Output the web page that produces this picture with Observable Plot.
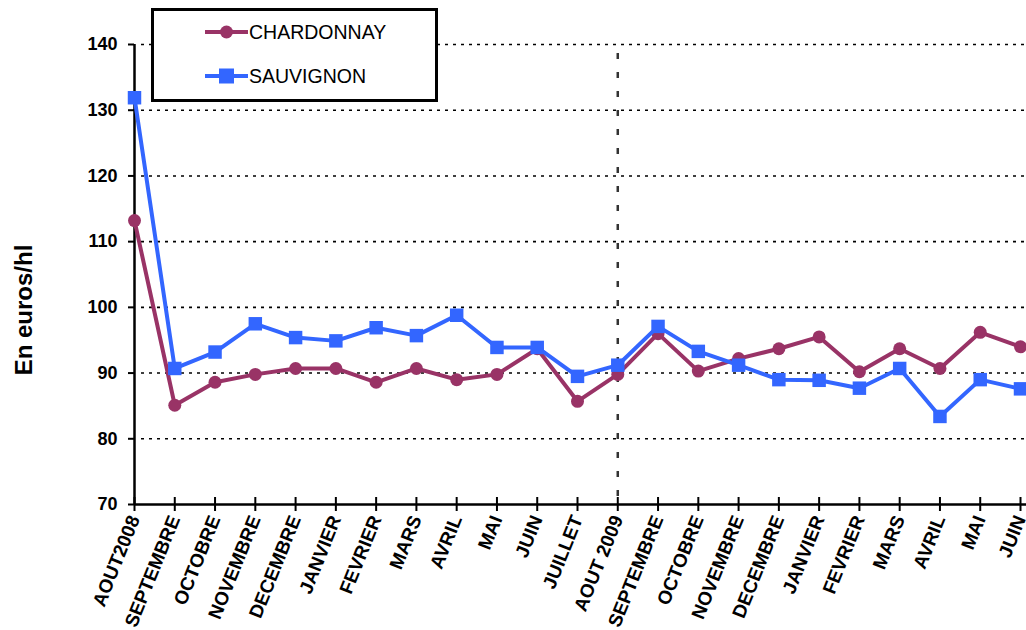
<!DOCTYPE html>
<html>
<head>
<meta charset="utf-8">
<script src="https://cdn.jsdelivr.net/npm/d3@7"></script>
<script src="https://cdn.jsdelivr.net/npm/@observablehq/plot@0.6"></script>
<style>
  html, body { margin: 0; padding: 0; background: #fff; }
  #wrap { position: relative; width: 1026px; height: 630px; overflow: hidden; font-family: Arial, "Liberation Sans", sans-serif; }
  #ylabel { position: absolute; left: 24px; top: 310px; transform: translate(-50%, -50%) rotate(-90deg); font-size: 24px; font-weight: bold; white-space: nowrap; color: #000; }
  #legend { position: absolute; left: 151px; top: 8px; }
</style>
</head>
<body>
<div id="wrap">
  <div id="chart"></div>
  <div id="ylabel">En euros/hl</div>
  <div id="legend"></div>
</div>
<script>
const months = ["AOUT2008","SEPTEMBRE","OCTOBRE","NOVEMBRE","DECEMBRE","JANVIER","FEVRIER","MARS","AVRIL","MAI","JUIN","JUILLET","AOUT 2009","SEPTEMBRE","OCTOBRE","NOVEMBRE","DECEMBRE","JANVIER","FEVRIER","MARS","AVRIL","MAI","JUIN"];
const chardonnay = [113.2,85.1,88.6,89.8,90.7,90.7,88.6,90.7,89.0,89.8,93.7,85.7,89.8,96.0,90.3,92.2,93.7,95.5,90.2,93.7,90.7,96.2,94.0];
const sauvignon = [131.9,90.7,93.2,97.5,95.4,94.9,96.9,95.7,98.8,93.9,93.9,89.5,91.2,97.1,93.3,91.2,89.0,88.9,87.7,90.7,83.4,89.0,87.6];
const seriesNames = ["CHARDONNAY", "SAUVIGNON"];
const seriesColors = ["#993366", "#3366FF"];
const yTicks = [70, 80, 90, 100, 110, 120, 130, 140];
const gridValues = [80, 90, 100, 110, 120, 130, 140];
const dividerIndex = [12];

const idx = d3.range(months.length);
const rows = idx.flatMap(i => [
  {i, v: chardonnay[i], s: seriesNames[0]},
  {i, v: sauvignon[i], s: seriesNames[1]}
]);
const rowsC = rows.filter(d => d.s === seriesNames[0]);
const rowsS = rows.filter(d => d.s === seriesNames[1]);

const font = 'Arial, "Liberation Sans", sans-serif';

const chart = Plot.plot({
  width: 1026,
  height: 630,
  marginLeft: 134,
  marginRight: 6,
  marginTop: 44,
  marginBottom: 126,
  style: { fontFamily: font, background: "#fff", color: "#000" },
  x: { type: "point", domain: idx, padding: 0, round: false },
  y: { domain: [70, 140] },
  marks: [
    Plot.ruleY(gridValues, { stroke: "#000", strokeWidth: 1.6, strokeDasharray: "3,5", insetLeft: 7, insetRight: -6 }),
    Plot.ruleX(dividerIndex, { x: d => d, stroke: "#333", strokeWidth: 2.5, strokeDasharray: "6,13", insetTop: 9 }),
    Plot.ruleY([70], { stroke: "#000", strokeWidth: 2.5, insetRight: -6 }),
    Plot.ruleX([0], { x: d => d, stroke: "#000", strokeWidth: 2.5 }),
    Plot.axisY({ ticks: yTicks, tickSize: 6, tickPadding: 11, fontSize: 18, fontWeight: "bold", label: null, strokeWidth: 2 }),
    Plot.axisX({ ticks: idx, tickSize: 7, tickPadding: 5, tickRotate: -68, tickFormat: i => months[i], fontSize: 19, fontWeight: "bold", label: null, strokeWidth: 2 }),
    Plot.axisX({ ticks: idx, tickSize: -7, tickFormat: () => "", label: null, strokeWidth: 2 }),
    Plot.line(rowsC, { x: "i", y: "v", stroke: seriesColors[0], strokeWidth: 4 }),
    Plot.dot(rowsC, { x: "i", y: "v", r: 6.5, fill: seriesColors[0], symbol: "circle" }),
    Plot.line(rowsS, { x: "i", y: "v", stroke: seriesColors[1], strokeWidth: 4 }),
    Plot.dot(rowsS, { x: "i", y: "v", r: 7.6, fill: seriesColors[1], symbol: "square" })
  ]
});
document.getElementById("chart").appendChild(chart);

// Legend
const lg = d3.select("#legend").append("svg").attr("width", 288).attr("height", 95);
lg.append("rect").attr("x", 1.5).attr("y", 1.5).attr("width", 284).attr("height", 91)
  .attr("fill", "#fff").attr("stroke", "#000").attr("stroke-width", 3);
seriesNames.forEach((name, k) => {
  const cy = 24 + k * 44;
  const g = lg.append("g");
  g.append("line").attr("x1", 54).attr("x2", 97).attr("y1", cy).attr("y2", cy)
    .attr("stroke", seriesColors[k]).attr("stroke-width", 4);
  if (k === 0) {
    g.append("circle").attr("cx", 75.5).attr("cy", cy).attr("r", 6.5).attr("fill", seriesColors[k]);
  } else {
    g.append("rect").attr("x", 68).attr("y", cy - 7.5).attr("width", 15).attr("height", 15).attr("fill", seriesColors[k]);
  }
  g.append("text").attr("x", 98).attr("y", cy + 7).attr("font-family", font).attr("font-size", 19.5)
    .attr("fill", "#000").text(name);
});
</script>
</body>
</html>
